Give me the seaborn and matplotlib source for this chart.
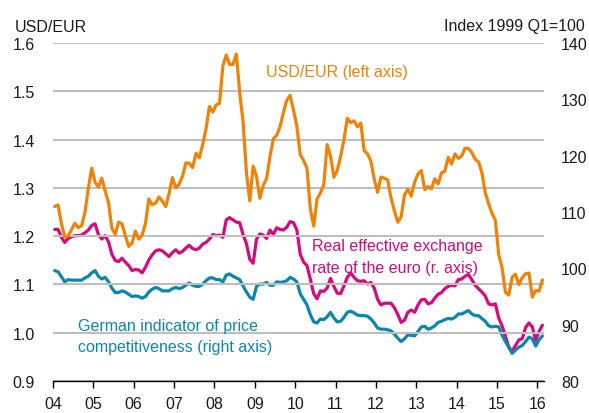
import numpy as np
import pandas as pd
import matplotlib
matplotlib.use("Agg")
import matplotlib.pyplot as plt
import seaborn as sns

# ---------------- data (monthly, Jan 2004 - Feb 2016) ----------------
usd_eur = [
    1.2613, 1.2646, 1.2262, 1.1985, 1.2007, 1.2138, 1.2266, 1.2176, 1.2218, 1.2490, 1.2991, 1.3408,
    1.3119, 1.3014, 1.3201, 1.2938, 1.2694, 1.2165, 1.2037, 1.2292, 1.2256, 1.2015, 1.1786, 1.1856,
    1.2103, 1.1938, 1.2020, 1.2271, 1.2770, 1.2650, 1.2684, 1.2811, 1.2727, 1.2611, 1.2881, 1.3213,
    1.2999, 1.3074, 1.3242, 1.3516, 1.3511, 1.3419, 1.3716, 1.3622, 1.3896, 1.4227, 1.4684, 1.4570,
    1.4718, 1.4748, 1.5527, 1.5751, 1.5557, 1.5553, 1.5770, 1.4975, 1.4370, 1.3322, 1.2732, 1.3449,
    1.3239, 1.2785, 1.3050, 1.3190, 1.3650, 1.4016, 1.4088, 1.4268, 1.4562, 1.4816, 1.4914, 1.4614,
    1.4272, 1.3686, 1.3569, 1.3406, 1.2565, 1.2209, 1.2770, 1.2894, 1.3067, 1.3898, 1.3661, 1.3220,
    1.3360, 1.3649, 1.3999, 1.4442, 1.4349, 1.4388, 1.4264, 1.4343, 1.3770, 1.3706, 1.3556, 1.3179,
    1.2905, 1.3224, 1.3201, 1.3162, 1.2789, 1.2526, 1.2288, 1.2400, 1.2856, 1.2974, 1.2828, 1.3119,
    1.3288, 1.3359, 1.2964, 1.3026, 1.2982, 1.3189, 1.3080, 1.3310, 1.3348, 1.3635, 1.3493, 1.3704,
    1.3610, 1.3659, 1.3823, 1.3813, 1.3732, 1.3592, 1.3539, 1.3316, 1.2901, 1.2673, 1.2472, 1.2331,
    1.1621, 1.1350, 1.0838, 1.0779, 1.1150, 1.1213, 1.0996, 1.1139, 1.1221, 1.1235, 1.0736, 1.0877,
    1.0860, 1.1093,
]

reer_euro = [
    106.9, 106.9, 105.5, 104.6, 105.3, 105.6, 105.8, 105.8, 105.9, 106.3, 106.8, 107.6,
    107.9, 106.0, 105.2, 105.8, 104.7, 102.5, 101.4, 101.2, 101.8, 101.1, 100.5, 99.6,
    99.8, 99.7, 99.2, 100.2, 101.5, 102.4, 103.1, 103.3, 103.1, 102.6, 102.1, 102.8,
    103.3, 102.7, 103.0, 103.6, 104.1, 103.5, 103.3, 103.6, 104.3, 104.6, 105.2, 106.0,
    105.8, 105.9, 105.5, 108.6, 109.0, 108.6, 108.2, 108.1, 106.0, 104.4, 101.6, 100.9,
    105.2, 106.1, 105.9, 105.3, 106.8, 106.0, 107.2, 106.9, 106.8, 107.3, 108.3, 108.1,
    106.8, 102.5, 101.1, 100.5, 98.1, 95.5, 94.6, 96.0, 95.9, 96.5, 98.2, 96.8,
    95.6, 95.5, 96.9, 98.4, 99.2, 98.4, 97.8, 97.7, 97.8, 97.2, 97.5, 96.5,
    94.5, 93.5, 93.8, 93.8, 93.8, 93.0, 91.8, 90.4, 90.8, 92.2, 92.6, 92.2,
    93.5, 94.4, 94.5, 93.7, 93.9, 94.7, 95.4, 95.7, 96.4, 96.8, 97.0, 96.9,
    98.0, 98.1, 98.6, 98.9, 98.0, 97.0, 96.4, 95.8, 95.1, 93.7, 93.5, 93.7,
    91.2, 89.8, 88.0, 86.0, 85.3, 86.3, 87.3, 87.5, 89.5, 90.3, 89.6, 87.2,
    88.8, 89.9,
]

german_pci = [
    99.6, 99.4, 98.5, 97.6, 98.0, 97.9, 97.9, 97.9, 97.9, 98.3, 98.6, 99.2,
    99.6, 98.6, 98.1, 98.4, 97.6, 96.5, 95.7, 95.7, 96.0, 95.8, 95.4, 95.0,
    95.1, 95.0, 94.7, 95.0, 95.8, 96.3, 96.6, 96.4, 96.0, 96.0, 96.0, 96.4,
    96.6, 96.4, 96.6, 97.0, 97.4, 97.0, 96.8, 96.8, 97.2, 97.8, 98.3, 98.3,
    98.0, 98.0, 97.6, 98.8, 99.0, 98.6, 98.3, 98.0, 96.9, 95.8, 94.9, 94.5,
    96.8, 97.2, 97.2, 97.5, 97.0, 97.0, 97.6, 97.5, 97.6, 97.8, 98.4, 98.1,
    97.6, 95.5, 94.5, 93.5, 91.8, 90.5, 90.3, 91.0, 90.9, 91.4, 92.2, 91.2,
    90.5, 90.6, 91.3, 92.2, 92.4, 92.1, 91.7, 91.6, 91.6, 91.5, 91.0, 90.3,
    89.4, 89.2, 89.2, 89.1, 88.9, 88.3, 87.6, 87.0, 87.5, 88.2, 88.1, 88.0,
    88.8, 89.6, 89.7, 89.2, 89.4, 89.8, 90.4, 90.6, 90.9, 91.1, 91.0, 91.3,
    91.9, 91.9, 92.2, 92.5, 91.9, 91.6, 91.6, 91.1, 90.6, 89.8, 89.6, 89.7,
    89.6, 88.2, 87.0, 86.0, 84.9, 85.5, 86.0, 86.3, 87.0, 87.8, 87.5, 86.2,
    87.3, 88.0,
]

year_ticks = list(range(2004, 2017))
year_labels = ["04", "05", "06", "07", "08", "09", "10", "11", "12", "13", "14", "15", "16"]
left_ticks = [0.9, 1.0, 1.1, 1.2, 1.3, 1.4, 1.5, 1.6]
right_ticks = [80, 90, 100, 110, 120, 130, 140]

# ---------------- styling ----------------
ORANGE = "#F08208"
PINK = "#D60A7F"
TEAL = "#0A87AD"
GRID = "#BEBEBE"

sns.set_theme(style="white")
plt.rcParams["font.family"] = ["Liberation Sans", "DejaVu Sans"]
FS = 11.5

months = pd.period_range("2004-01", periods=len(usd_eur), freq="M")
xpos = months.year + (months.month - 0.5) / 12.0
df = pd.DataFrame({"t": xpos, "usd": usd_eur, "reer": reer_euro, "pci": german_pci})

fig = plt.figure(figsize=(5.89, 4.14), dpi=100)
ax = fig.add_axes([0.090, 0.0773, 0.834, 0.8164])
ax2 = ax.twinx()

sns.lineplot(data=df, x="t", y="usd", ax=ax, color=ORANGE, lw=2.3, zorder=3)
sns.lineplot(data=df, x="t", y="reer", ax=ax2, color=PINK, lw=2.3, zorder=3)
sns.lineplot(data=df, x="t", y="pci", ax=ax2, color=TEAL, lw=2.3, zorder=3)

ax.set_xlim(2004, 2016.17)
ax.set_ylim(0.9, 1.6)
ax2.set_ylim(80, 140)

ax.set_yticks(left_ticks)
ax.set_yticklabels([f"{v:.1f}" for v in left_ticks], fontsize=FS)
ax2.set_yticks(right_ticks)
ax2.set_yticklabels([str(v) for v in right_ticks], fontsize=FS)
ax.set_xticks(year_ticks)
ax.set_xticklabels(year_labels, fontsize=FS)

ax.yaxis.grid(True, color=GRID, lw=1.5)
ax.xaxis.grid(False)
ax2.grid(False)
ax.set_axisbelow(True)

for a in (ax, ax2):
    for s in ("left", "right", "top", "bottom"):
        a.spines[s].set_visible(False)
    a.set_xlabel("")
    a.set_ylabel("")
ax.spines["bottom"].set_visible(True)
ax.spines["bottom"].set_color("black")
ax.spines["bottom"].set_linewidth(1.0)

ax.tick_params(axis="x", direction="out", length=5, width=1.0, color="black",
               pad=6, labelcolor="#1a1a1a", bottom=True)
ax.tick_params(axis="y", length=0, pad=13, labelcolor="#1a1a1a")
ax2.tick_params(axis="y", length=0, pad=12, labelcolor="#1a1a1a")

ax.set_zorder(ax2.get_zorder() + 1)
ax.patch.set_visible(False)

# headers
fig.text(15 / 589, 1 - 27 / 414, "USD/EUR", fontsize=FS, ha="left", va="center", color="#1a1a1a")
fig.text(585 / 589, 1 - 27 / 414, "Index 1999 Q1=100", fontsize=FS, ha="right", va="center", color="#1a1a1a")

# in-plot labels
fig.text(266 / 589, 1 - 73 / 414, "USD/EUR (left axis)", fontsize=FS, color=ORANGE, ha="left", va="center")
fig.text(312 / 589, 1 - 247 / 414, "Real effective exchange", fontsize=FS, color=PINK, ha="left", va="center")
fig.text(312 / 589, 1 - 268.5 / 414, "rate of the euro (r. axis)", fontsize=FS, color=PINK, ha="left", va="center")
fig.text(78 / 589, 1 - 326 / 414, "German indicator of price", fontsize=FS, color=TEAL, ha="left", va="center")
fig.text(78 / 589, 1 - 348 / 414, "competitiveness (right axis)", fontsize=FS, color=TEAL, ha="left", va="center")

fig.savefig("out.png", dpi=100)
